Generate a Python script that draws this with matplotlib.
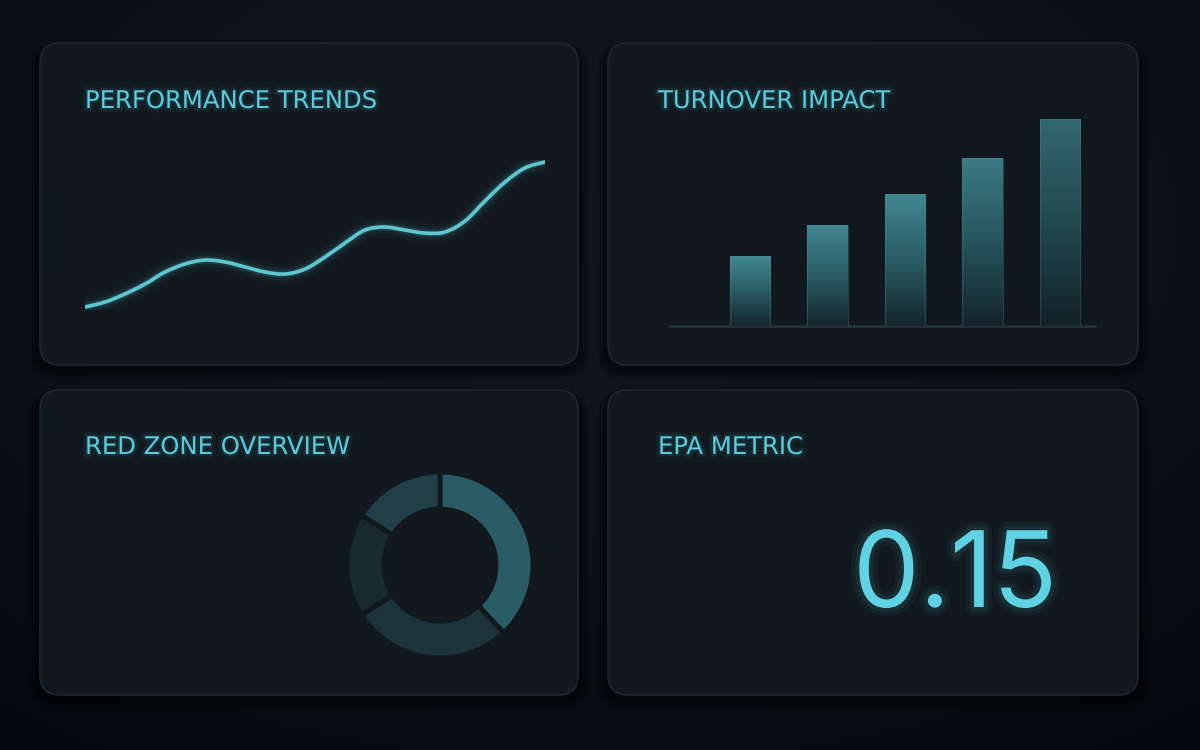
import numpy as np
import matplotlib
matplotlib.use('Agg')
import matplotlib.pyplot as plt
import matplotlib.patches as patches
import matplotlib.patheffects as pe
from matplotlib.path import Path
from matplotlib.colors import LinearSegmentedColormap

# data
titles = ['PERFORMANCE TRENDS', 'TURNOVER IMPACT', 'RED ZONE OVERVIEW', 'EPA METRIC']
trend_x = list(range(24))
trend_y = [2, 5.3, 10.7, 17.3, 25.3, 30.7, 33.3, 32, 28.7, 25.3, 24, 27.3,
           35.3, 44.7, 53.3, 55.3, 53.3, 51.3, 52, 59.3, 72.7, 85.3, 94.7, 98.7]
turnover_vals = [7.0, 10.1, 13.2, 16.8, 20.7]
redzone_vals = [38, 28, 18, 16]
epa_value = 0.15

BG = '#0a0f15'
PANEL = '#11181e'
EDGE = '#1f282f'
CYAN = '#5ccbdc'
W, H = 1200, 750

fig = plt.figure(figsize=(12, 7.5), dpi=100)
fig.patch.set_facecolor(BG)

# background + panels, drawn in pixel units
bg = fig.add_axes([0, 0, 1, 1])
bg.set_xlim(0, W)
bg.set_ylim(H, 0)
bg.axis('off')
yy, xx = np.mgrid[0:1:100j, 0:1:160j]
vign = 1 - 0.6 * ((xx - 0.5) ** 2 + (yy - 0.3) ** 2)
bg_cmap = LinearSegmentedColormap.from_list('bg', ['#05080c', '#0f151b'])
bg.imshow(vign, extent=[0, W, H, 0], cmap=bg_cmap, aspect='auto', zorder=0)

boxes = [(40, 43, 538, 322), (608, 43, 530, 322),
         (40, 390, 538, 305), (608, 390, 530, 305)]
for (x, y, w, h) in boxes:
    for k in range(6, 0, -1):
        bg.add_patch(patches.FancyBboxPatch(
            (x - k * 2, y - k * 1 + 4), w + k * 4, h + k * 3,
            boxstyle='round,pad=0,rounding_size=%d' % (20 + k * 2),
            fc='#000000', ec='none', alpha=0.08, zorder=1))
    bg.add_patch(patches.FancyBboxPatch(
        (x, y), w, h, boxstyle='round,pad=0,rounding_size=20',
        fc=PANEL, ec=EDGE, lw=1.2, zorder=2))

glow = lambda c, s: [pe.Stroke(linewidth=3 * s, foreground=c, alpha=0.05),
                     pe.Stroke(linewidth=1.5 * s, foreground=c, alpha=0.07),
                     pe.Normal()]

title_pos = [(85, 108), (658, 108), (85, 454), (658, 454)]
for t, (tx, ty) in zip(titles, title_pos):
    bg.text(tx, ty, t, color=CYAN, fontsize=17.5, family='DejaVu Sans',
            ha='left', va='baseline', zorder=5, path_effects=glow(CYAN, 2))


def px_axes(left, top, right, bottom):
    ax = fig.add_axes([left / W, 1 - bottom / H, (right - left) / W,
                       (bottom - top) / H])
    ax.set_facecolor('none')
    ax.axis('off')
    return ax


def smooth_path(xs, ys):
    # cubic bezier segments through the points (catmull-rom handles)
    p = np.column_stack([xs, ys]).astype(float)
    ext = np.vstack([p[0], p, p[-1]])
    verts = [p[0]]
    codes = [Path.MOVETO]
    for i in range(len(p) - 1):
        p0, p1, p2, p3 = ext[i], ext[i + 1], ext[i + 2], ext[i + 3]
        verts += [p1 + (p2 - p0) / 6, p2 - (p3 - p1) / 6, p2]
        codes += [Path.CURVE4] * 3
    return Path(verts, codes)


# a) performance trend line with glow
ax1 = px_axes(85, 160, 545, 310)
trend_path = smooth_path(trend_x, trend_y)
for lw, a in [(14, 0.03), (9, 0.06), (5, 0.14), (2.6, 1.0)]:
    ax1.add_patch(patches.PathPatch(trend_path, fc='none', ec='#5ec8d2',
                                    lw=lw, alpha=a, capstyle='round',
                                    joinstyle='round'))
ax1.set_xlim(0, 23)
ax1.set_ylim(0, 100)

# b) turnover bars with vertical gradient
ax2 = px_axes(711.25, 106, 1098.75, 326)
bars = ax2.bar(range(len(turnover_vals)), turnover_vals, width=0.52,
               color='none', edgecolor='#4a9aa2', lw=0.8, zorder=3)
bar_alpha = [1.0, 1.0, 1.0, 0.9, 0.72]
bar_cmap = LinearSegmentedColormap.from_list('bar', ['#14262c', '#2a5c64', '#41878f'])
grad = np.linspace(0, 1, 200).reshape(-1, 1)
for b, a in zip(bars, bar_alpha):
    x0 = b.get_x()
    im = ax2.imshow(grad, extent=[x0, x0 + b.get_width(), 0, b.get_height()],
                    origin='lower', cmap=bar_cmap, aspect='auto', alpha=a, zorder=2)
    im.set_clip_path(b)
    b.set_edgecolor((0.29, 0.6, 0.64, 0.35 * a))
ax2.plot([-1.03, 4.45], [0, 0], color='#26323a', lw=2, clip_on=False, zorder=1)
ax2.set_xlim(-0.5, 4.5)
ax2.set_ylim(0, 22)

# c) red zone donut
ax3 = px_axes(340, 465, 540, 665)
wedges, _ = ax3.pie(redzone_vals, startangle=90, counterclock=False, radius=0.93,
                    colors=['#2a5c65', '#1c343a', '#182b31', '#213f47'],
                    wedgeprops=dict(width=0.37, edgecolor=PANEL, linewidth=3.5))
ax3.set_xlim(-1, 1)
ax3.set_ylim(-1, 1)
ax3.set_aspect('equal')

# d) EPA metric
bg.text(955, 607, '%.2f' % epa_value, color='#5fd3e3', fontsize=76,
        family='Inter', ha='center', va='baseline', zorder=5,
        path_effects=glow('#5fd3e3', 4))

plt.savefig('out.png', dpi=100, facecolor=BG)
